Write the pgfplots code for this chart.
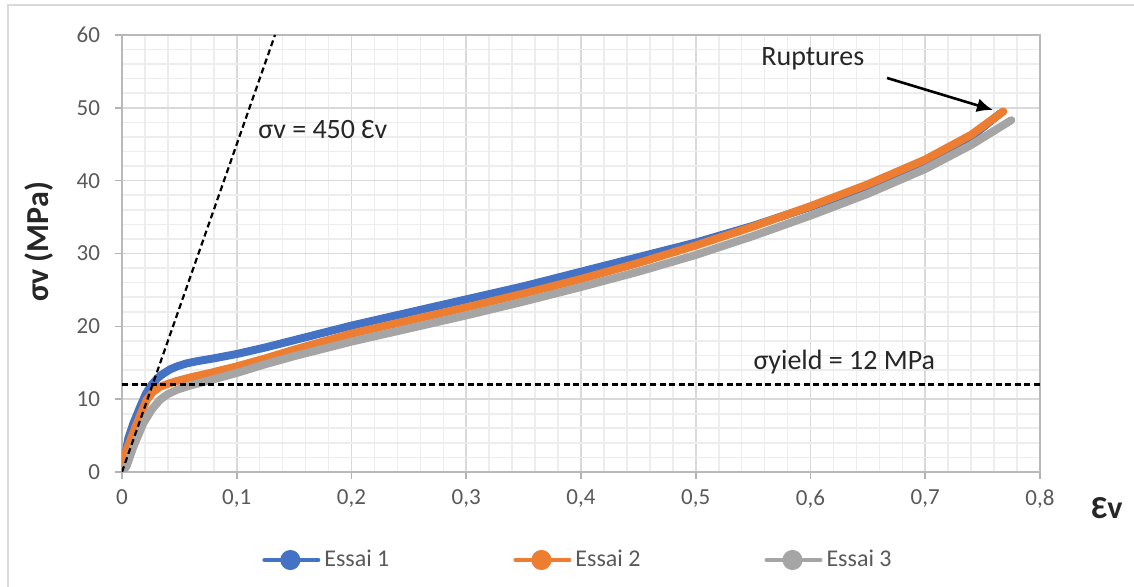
\documentclass[border=0pt]{standalone}
\usepackage{fontspec}
\setmainfont{Carlito}
\usepackage{pgfplots}
\pgfplotsset{compat=1.18}
\usetikzlibrary{arrows.meta}
\definecolor{c1}{HTML}{4472C4}
\definecolor{c2}{HTML}{ED7D31}
\definecolor{c3}{HTML}{A5A5A5}
\definecolor{tick}{HTML}{595959}
\definecolor{gmaj}{HTML}{D9D9D9}
\definecolor{gmin}{HTML}{EDEDED}
\begin{document}
\begin{tikzpicture}
\useasboundingbox (-61pt,-57.5pt) rectangle (506pt,236pt);
\draw[gmaj, line width=1pt] (-57pt,-57.5pt) -- (-57pt,233.5pt) -- (506pt,233.5pt);
\begin{axis}[
  at={(0pt,0pt)}, anchor=south west,
  scale only axis, width=459pt, height=218.5pt,
  xmin=0, xmax=0.8, ymin=0, ymax=60,
  xtick={0,0.1,0.2,0.3,0.4,0.5,0.6,0.7,0.8},
  ytick={0,10,20,30,40,50,60},
  minor x tick num=4, minor y tick num=4,
  grid=both,
  major grid style={gmaj, line width=0.8pt},
  minor grid style={gmin, line width=0.8pt},
  tick pos=left, tick align=outside,
  major tick length=3.5pt, minor tick length=0pt,
  tick style={gray!60, line width=0.8pt},
  axis line style={draw=gray!55, line width=0.8pt},
  ticklabel style={font=\fontsize{11.5}{13}\selectfont, text=tick},
  xticklabel style={yshift=-2pt},
  yticklabel style={xshift=-4pt},
  /pgf/number format/use comma,
  /pgf/number format/assume math mode=true,
  legend columns=3,
  legend style={at={(0.4978,-0.2014)}, anchor=center, draw=none, fill=none,
    font=\fontsize{12}{14}\selectfont, text=tick,
    /tikz/every even column/.append style={column sep=60pt}},
  legend cell align=left,
  legend image code/.code={\draw[#1, line width=2pt] (0pt,0pt) -- (27pt,0pt); \fill[#1] (13pt,0pt) circle (3pt);},
]
\addplot[c1, line width=4pt, line join=round, line cap=round] coordinates {
(0,0) (0.003,2.5) (0.0055,4.6) (0.010,6.7) (0.016,9.0) (0.021,10.8) (0.026,12.0) (0.031,12.9) (0.036,13.5) (0.042,14.1) (0.048,14.5) (0.056,14.9) (0.065,15.2) (0.08,15.6)
(0.1,16.2) (0.125,17.1) (0.15,18.1) (0.175,19.1) (0.2,20.1) (0.25,21.9) (0.3,23.7) (0.35,25.5) (0.4,27.5) (0.45,29.5)
(0.5,31.5) (0.55,33.8) (0.6,36.4) (0.65,39.2) (0.7,42.6) (0.74,46.0) (0.765,49.2)
};
\addlegendentry{Essai 1}
\addplot[c2, line width=4pt, line join=round, line cap=round] coordinates {
(0,0) (0.002,2.3) (0.006,3.8) (0.013,6.7) (0.0215,9.9) (0.027,11.0) (0.033,11.7) (0.04,12.1) (0.048,12.5) (0.06,13.0) (0.077,13.6)
(0.1,14.5) (0.125,15.6) (0.15,16.8) (0.175,17.9) (0.2,19.0) (0.25,20.8) (0.3,22.6) (0.35,24.5) (0.4,26.5) (0.45,28.7)
(0.5,31.1) (0.55,33.7) (0.6,36.5) (0.65,39.5) (0.7,42.9) (0.74,46.3) (0.768,49.5)
};
\addlegendentry{Essai 2}
\addplot[c3, line width=4pt, line join=round, line cap=round] coordinates {
(0,0) (0.004,0.8) (0.010,3.5) (0.0186,6.7) (0.026,8.6) (0.033,9.9) (0.040,10.7) (0.048,11.3) (0.06,11.9) (0.077,12.6)
(0.1,13.6) (0.125,14.8) (0.15,15.9) (0.175,16.9) (0.2,17.9) (0.25,19.7) (0.3,21.5) (0.35,23.4) (0.4,25.4) (0.45,27.5)
(0.5,29.8) (0.55,32.4) (0.6,35.2) (0.65,38.2) (0.7,41.6) (0.74,44.9) (0.775,48.3)
};
\addlegendentry{Essai 3}
\addplot[black, line width=1.1pt, dash pattern=on 3pt off 1.8pt, forget plot] coordinates {(0,0) (0.13333,60)};
\addplot[black, line width=1.1pt, dash pattern=on 3pt off 1.8pt, forget plot] coordinates {(0,12) (0.8,12)};
\node[anchor=west, inner sep=0pt, font=\fontsize{14}{16}\selectfont, text=black!85] at (axis cs:0.1185,47) {σv = 450 Ɛv};
\node[anchor=west, inner sep=0pt, font=\fontsize{14}{16}\selectfont, text=black!85] at (axis cs:0.55,15.1) {σyield = 12 MPa};
\node[inner sep=0pt, font=\fontsize{14}{16}\selectfont, text=black!85] at (axis cs:0.602,56.7) {Ruptures};
\draw[-{Latex[length=8pt,width=7pt]}, line width=1.3pt] (axis cs:0.6667,54.1) -- (axis cs:0.759,49.7);
\end{axis}
\node[rotate=90, font=\bfseries\fontsize{16}{18}\selectfont, text=black!85] at (-41.5pt,115pt) {σv (MPa)};
\node[font=\bfseries\fontsize{16}{18}\selectfont, text=black!85] at (492.5pt,-18pt) {Ɛv};
\end{tikzpicture}
\end{document}
